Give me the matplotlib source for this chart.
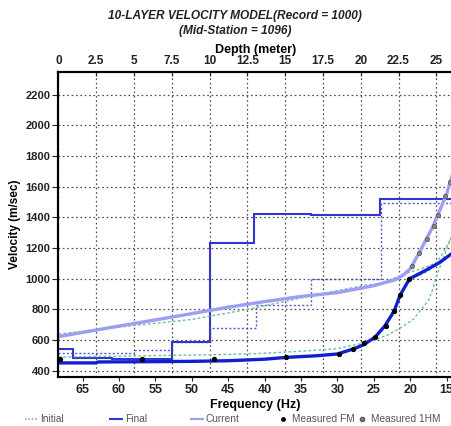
import matplotlib
matplotlib.use('Agg')
import matplotlib.pyplot as plt
from matplotlib.lines import Line2D

plt.rcParams['font.family'] = ['Liberation Sans', 'DejaVu Sans']

# ── layered velocity models (depth in m, velocity in m/s) ─────────
depth_final = [0, 0.97, 3.55, 7.5, 10.0, 12.96, 16.7, 21.3, 26.1]
vel_final = [543, 486, 478, 588, 1235, 1424, 1415, 1518]

depth_init = [0, 5.0, 7.5, 10.0, 13.05, 16.7, 21.35, 26.1]
vel_init = [519, 536, 590, 681, 826, 996, 1493]

# ── dispersion curves (frequency in Hz, phase velocity in m/s) ────
freq_fin = [68.3, 63.1, 62.9, 55, 50, 45, 40, 37, 33, 30, 27.8, 26.45, 24.85,
            23.5, 22.2, 21.4, 20.1, 18.0, 16.0, 14.3]
vel_fin = [452, 452, 458, 460, 462, 466, 476, 488, 498, 510, 543, 569, 619,
           692, 791, 893, 1000, 1052, 1105, 1164]

freq_cur = [68.3, 60, 55, 50, 45, 40, 35, 30, 25, 22, 21, 20, 19, 18, 17, 16,
            15, 14.3]
vel_cur = [623, 692, 732, 773, 815, 851, 885, 910, 955, 995, 1023, 1065, 1150,
           1240, 1330, 1440, 1553, 1665]

freq_g1 = [68.3, 60, 50, 42.4, 33.8, 26, 24, 20.7, 18.5, 16.1, 14.3]
vel_g1 = [640, 685, 735, 800, 887, 960, 969, 1034, 1065, 1110, 1160]

freq_g2 = [68.3, 60, 50, 45, 40, 35, 30, 27, 25, 23, 21, 19.5, 18.5, 17.5,
           17.0, 16.4, 15.5, 14.3]
vel_g2 = [490, 496, 503, 507, 515, 528, 545, 575, 600, 635, 690, 740, 800,
          860, 920, 1015, 1130, 1280]

freq_g3 = [20.0, 18.6, 17.0, 15.6, 14.3]
vel_g3 = [1000, 1025, 1065, 1160, 1272]

freq_fm = [68.1, 56.9, 46.9, 37.1, 29.8, 27.9, 26.4, 24.85, 23.4, 22.2, 21.4, 20.15]
vel_fm = [476, 478, 476, 493, 510, 543, 580, 619, 692, 791, 893, 996]

freq_1hm = [19.7, 18.85, 17.7, 16.8, 16.2, 15.2, 14.5]
vel_1hm = [1085, 1165, 1260, 1345, 1415, 1540, 1630]

depth_ticks = [0, 2.5, 5, 7.5, 10, 12.5, 15, 17.5, 20, 22.5, 25]
freq_ticks = [65, 60, 55, 50, 45, 40, 35, 30, 25, 20, 15]
vel_ticks = [400, 600, 800, 1000, 1200, 1400, 1600, 1800, 2000, 2200]

COL_FINAL = '#3434d6'
COL_FDISP = '#1020d0'
COL_CUR = '#9d9df2'
COL_INIT = '#5a5ad2'
COL_GREEN = '#6cc09e'

fig = plt.figure(figsize=(4.52, 4.26), dpi=100)
ax = fig.add_axes([0.1294, 0.115, 0.8706, 0.717])
fx = ax.twiny()   # frequency axis; twiny moves ax ticks to bottom, so set top afterwards

# depth axis (top) with the grid
ax.set_xlim(0, 26.04)
ax.set_ylim(360, 2350)
ax.xaxis.set_ticks_position('top')
ax.xaxis.set_label_position('top')
ax.set_xticks(depth_ticks)
ax.set_xticklabels([f'{d:g}' for d in depth_ticks])
ax.set_yticks(vel_ticks)
ax.grid(True, color='#4a4a4a', lw=0.9, ls=(0, (1.3, 2.2)))
ax.tick_params(axis='x', direction='in', length=3, pad=3, labelsize=8.5, colors='#222',
               top=True, bottom=False, labeltop=True, labelbottom=False)
ax.tick_params(axis='y', direction='out', length=4, pad=2, labelsize=8, colors='#222')
for t in ax.get_xticklabels() + ax.get_yticklabels():
    t.set_fontweight('bold')
ax.set_xlabel('Depth (meter)', fontsize=9, fontweight='bold', labelpad=2)
ax.set_ylabel('Velocity (m/sec)', fontsize=8.5, fontweight='bold', labelpad=3)

ax.stairs(vel_init, depth_init, baseline=None, color=COL_INIT, lw=1.0,
          ls=(0, (1.5, 1.5)), label='Initial')
ax.stairs(vel_final, depth_final, baseline=None, color=COL_FINAL, lw=1.5,
          label='Final')

# frequency axis (bottom, reversed)
fx.set_xlim(68.3, 14.27)
fx.xaxis.set_ticks_position('bottom')
fx.xaxis.set_label_position('bottom')
fx.set_xticks(freq_ticks)
fx.tick_params(axis='x', direction='out', length=3, pad=2, labelsize=9, colors='#222',
               top=False, bottom=True, labeltop=False, labelbottom=True)
for t in fx.get_xticklabels():
    t.set_fontweight('bold')
fx.set_xlabel('Frequency (Hz)', fontsize=9, fontweight='bold', labelpad=2)

fx.plot(freq_g2, vel_g2, color=COL_GREEN, lw=1.0, ls=(0, (2, 1.6)))
fx.plot(freq_g1, vel_g1, color=COL_GREEN, lw=1.0, ls=(0, (2, 1.6)))
fx.plot(freq_g3, vel_g3, color=COL_GREEN, lw=1.0, ls=(0, (2, 1.6)))
fx.plot(freq_cur, vel_cur, color=COL_CUR, lw=2.4, label='Current')
fx.plot(freq_fin, vel_fin, color=COL_FDISP, lw=2.4)
fx.plot(freq_fm, vel_fm, 'o', color='black', ms=2.8, label='Measured FM')
fx.plot(freq_1hm, vel_1hm, 'o', mfc='#8a8a8a', mec='#555', mew=0.6, ms=3,
        label='Measured 1HM')

for a in (ax, fx):
    a.spines['right'].set_visible(False)
    for s in ('left', 'top', 'bottom'):
        a.spines[s].set_linewidth(1.5)
        a.spines[s].set_color('black')

fig.text(0.52, 0.963, '10-LAYER VELOCITY MODEL(Record = 1000)', ha='center',
         va='center', fontsize=8.6, fontweight='bold', style='italic', color='#222')
fig.text(0.52, 0.928, '(Mid-Station = 1096)', ha='center', va='center',
         fontsize=8.6, fontweight='bold', style='italic', color='#222')

# legend along the bottom edge
handles = [
    Line2D([], [], color='#9b9be0', lw=1.2, ls=(0, (1, 1))),
    Line2D([], [], color=COL_FINAL, lw=1.5),
    Line2D([], [], color=COL_CUR, lw=1.5),
    Line2D([], [], ls='none', marker='o', color='black', ms=2.5),
    Line2D([], [], ls='none', marker='o', mfc='#8a8a8a', mec='#555', ms=3),
]
labels = ['Initial', 'Final', 'Current', 'Measured FM', 'Measured 1HM']
xpos = [0.055, 0.243, 0.422, 0.612, 0.788]
for h, lab, x in zip(handles, labels, xpos):
    fig.legend(handles=[h], labels=[lab], loc='center left',
               bbox_to_anchor=(x, 0.016), frameon=False, fontsize=7.3,
               handlelength=1.2, handletextpad=0.3, borderpad=0,
               borderaxespad=0, labelcolor='#555555')

fig.savefig('out.png', dpi=100)
